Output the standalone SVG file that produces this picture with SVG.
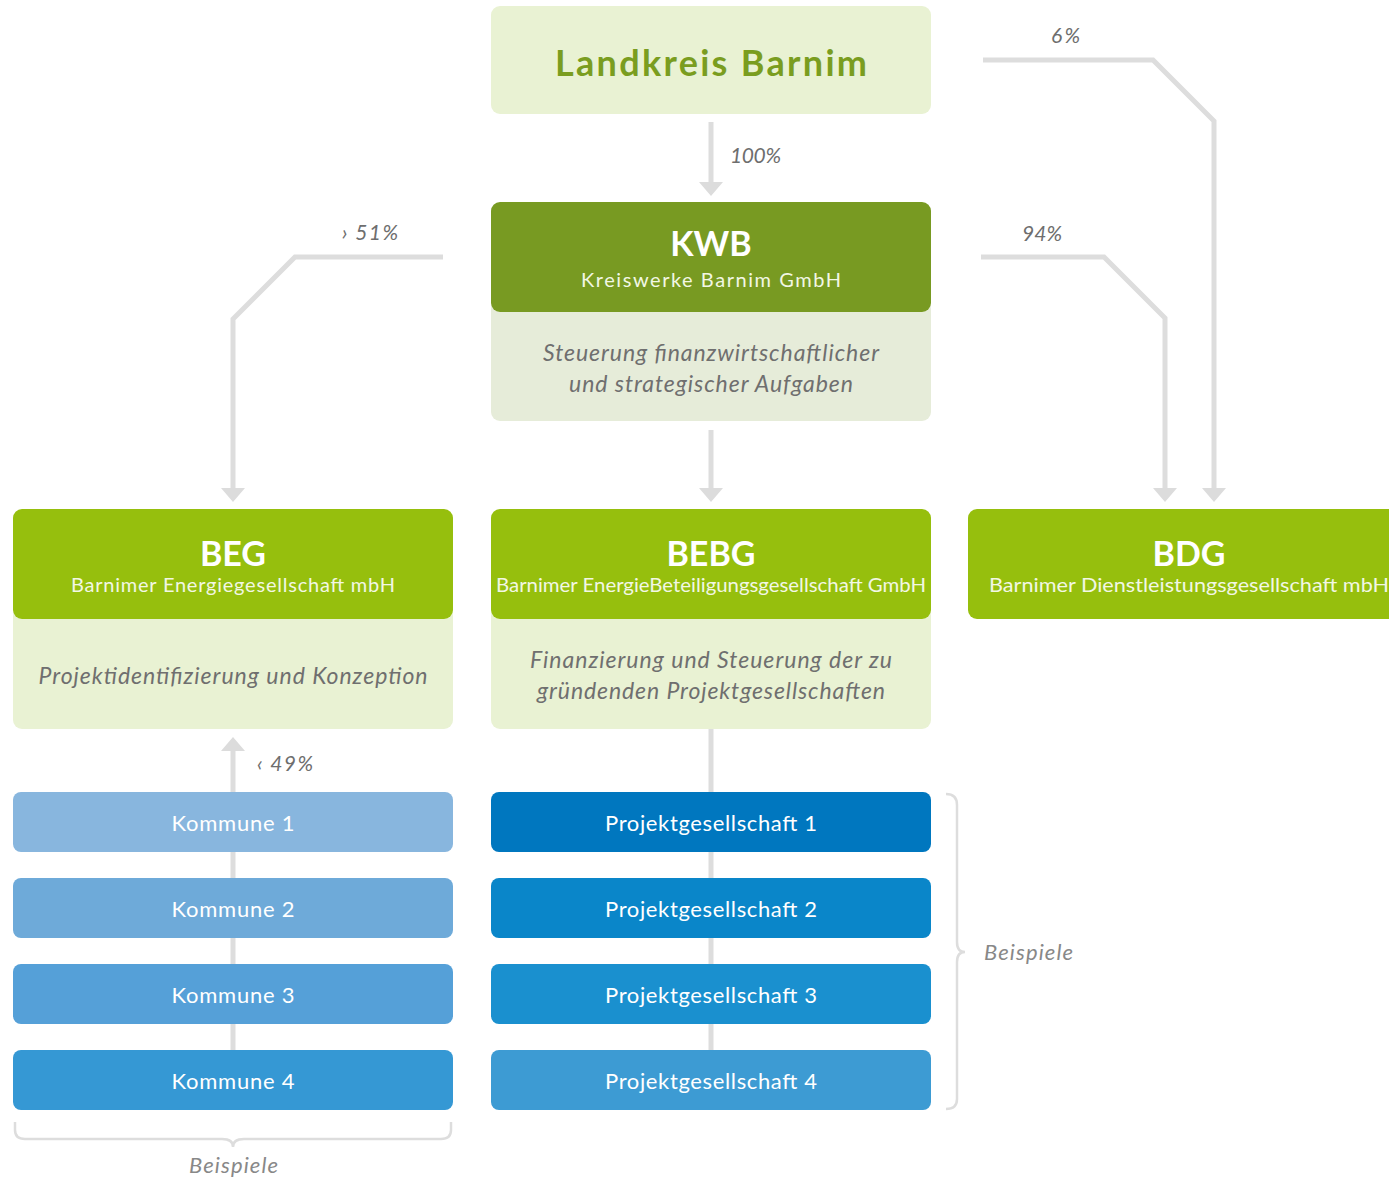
<svg xmlns="http://www.w3.org/2000/svg" width="1389" height="1180" viewBox="0 0 1389 1180">
<defs>
<style>
.ln{fill:none;stroke:#dddddd;stroke-width:5;stroke-linejoin:miter}
.ah{fill:#dcdcdc}
.pct{font-family:Lato,"Open Sans",sans-serif;font-style:italic;font-size:21px;fill:#6e6e6e}
.bsp{font-family:Lato,"Open Sans",sans-serif;font-style:italic;font-size:22px;fill:#888888}
.hd{font-family:Lato,"Open Sans",sans-serif;font-weight:bold;font-size:34px;fill:#ffffff;text-anchor:middle}
.sb{font-family:Lato,"Open Sans",sans-serif;font-size:20px;fill:#f2f7e4;text-anchor:middle}
.it{font-family:Lato,"Open Sans",sans-serif;font-style:italic;font-size:23px;fill:#6f6f6f;text-anchor:middle}
.bl{font-family:Lato,"Open Sans",sans-serif;font-size:22px;fill:#ffffff;text-anchor:middle}
.lg{fill:#e9f2d3}
.lime{fill:#96bf0d}
</style>
</defs>
<g id="connectors">
<path class="ln" d="M711,122 V183"/>
<polygon class="ah" points="699,182 723,182 711,196"/>
<path class="ln" d="M711,430 V489"/>
<polygon class="ah" points="699,488 723,488 711,502"/>
<path class="ln" d="M443,257 H295 L233,319 V489"/>
<polygon class="ah" points="221,488 245,488 233,502"/>
<path class="ln" d="M981,257 H1104 L1165,318 V489"/>
<polygon class="ah" points="1153,488 1177,488 1165,502"/>
<path class="ln" d="M983,60 H1153 L1214,121 V489"/>
<polygon class="ah" points="1202,488 1226,488 1214,502"/>
<path class="ln" d="M233,1050 V750"/>
<polygon class="ah" points="221,751 245,751 233,737"/>
<path class="ln" d="M711,729 V1050"/>
<path d="M946,794 Q957,794 957,805 V942 Q957,952 965,952 Q957,952 957,962 V1099 Q957,1109 946,1109" fill="none" stroke="#dddddd" stroke-width="2.5"/>
<path d="M15,1122 V1130 Q15,1139 25,1139 H222 Q233,1139 233,1147 Q233,1139 244,1139 H441 Q451,1139 451,1130 V1122" fill="none" stroke="#dddddd" stroke-width="2.5"/>
<text class="pct" x="730" y="163" textLength="51">100%</text>
<text class="pct" x="342" y="240" textLength="56">› 51%</text>
<text class="pct" x="1022" y="241" textLength="40">94%</text>
<text class="pct" x="1051" y="43" textLength="29">6%</text>
<text class="pct" x="257" y="771" textLength="56">‹ 49%</text>
<text class="bsp" x="984" y="960" textLength="89">Beispiele</text>
<text class="bsp" x="189" y="1173" textLength="89">Beispiele</text>
</g>
<g id="landkreis">
<rect class="lg" x="491" y="6" width="440" height="108" rx="9"/>
<text x="711" y="76" font-family="Lato,'Open Sans',sans-serif" font-weight="bold" font-size="36" fill="#7a9d1f" text-anchor="middle" textLength="312">Landkreis Barnim</text>
</g>
<g id="kwb">
<rect x="491" y="300" width="440" height="121" rx="9" fill="#e6ecd9"/>
<rect x="491" y="202" width="440" height="110" rx="9" fill="#789a22"/>
<text class="hd" x="711" y="256">KWB</text>
<text class="sb" x="711" y="287" font-size="21" textLength="260">Kreiswerke Barnim GmbH</text>
<text class="it" x="711" y="361" textLength="336">Steuerung finanzwirtschaftlicher</text>
<text class="it" x="711" y="392" textLength="284">und strategischer Aufgaben</text>
</g>
<g id="beg">
<rect class="lg" x="13" y="607" width="440" height="122" rx="9"/>
<rect class="lime" x="13" y="509" width="440" height="110" rx="9"/>
<text class="hd" x="233" y="566">BEG</text>
<text class="sb" x="233" y="592" textLength="324">Barnimer Energiegesellschaft mbH</text>
<text class="it" x="233" y="684" textLength="389">Projektidentifizierung und Konzeption</text>
</g>
<g id="bebg">
<rect class="lg" x="491" y="607" width="440" height="122" rx="9"/>
<rect class="lime" x="491" y="509" width="440" height="110" rx="9"/>
<text class="hd" x="711" y="566">BEBG</text>
<text class="sb" x="711" y="592" textLength="430" lengthAdjust="spacingAndGlyphs">Barnimer EnergieBeteiligungsgesellschaft GmbH</text>
<text class="it" x="711" y="668" textLength="362">Finanzierung und Steuerung der zu</text>
<text class="it" x="711" y="699" textLength="348">gründenden Projektgesellschaften</text>
</g>
<g id="bdg">
<rect class="lime" x="968" y="509" width="440" height="110" rx="9"/>
<text class="hd" x="1189" y="566">BDG</text>
<text class="sb" x="1189" y="592" textLength="400" lengthAdjust="spacingAndGlyphs">Barnimer Dienstleistungsgesellschaft mbH</text>
</g>
<g id="kommune1"><rect x="13" y="792" width="440" height="60" rx="8" fill="#88b6de"/><text class="bl" x="233" y="831" textLength="123">Kommune 1</text></g>
<g id="kommune2"><rect x="13" y="878" width="440" height="60" rx="8" fill="#6eaad9"/><text class="bl" x="233" y="917" textLength="123">Kommune 2</text></g>
<g id="kommune3"><rect x="13" y="964" width="440" height="60" rx="8" fill="#55a0d8"/><text class="bl" x="233" y="1003" textLength="123">Kommune 3</text></g>
<g id="kommune4"><rect x="13" y="1050" width="440" height="60" rx="8" fill="#3598d4"/><text class="bl" x="233" y="1089" textLength="123">Kommune 4</text></g>
<g id="pg1"><rect x="491" y="792" width="440" height="60" rx="8" fill="#0077bf"/><text class="bl" x="711" y="831" textLength="212">Projektgesellschaft 1</text></g>
<g id="pg2"><rect x="491" y="878" width="440" height="60" rx="8" fill="#0a86c9"/><text class="bl" x="711" y="917" textLength="212">Projektgesellschaft 2</text></g>
<g id="pg3"><rect x="491" y="964" width="440" height="60" rx="8" fill="#1a90cf"/><text class="bl" x="711" y="1003" textLength="212">Projektgesellschaft 3</text></g>
<g id="pg4"><rect x="491" y="1050" width="440" height="60" rx="8" fill="#3d9bd3"/><text class="bl" x="711" y="1089" textLength="212">Projektgesellschaft 4</text></g>
</svg>
